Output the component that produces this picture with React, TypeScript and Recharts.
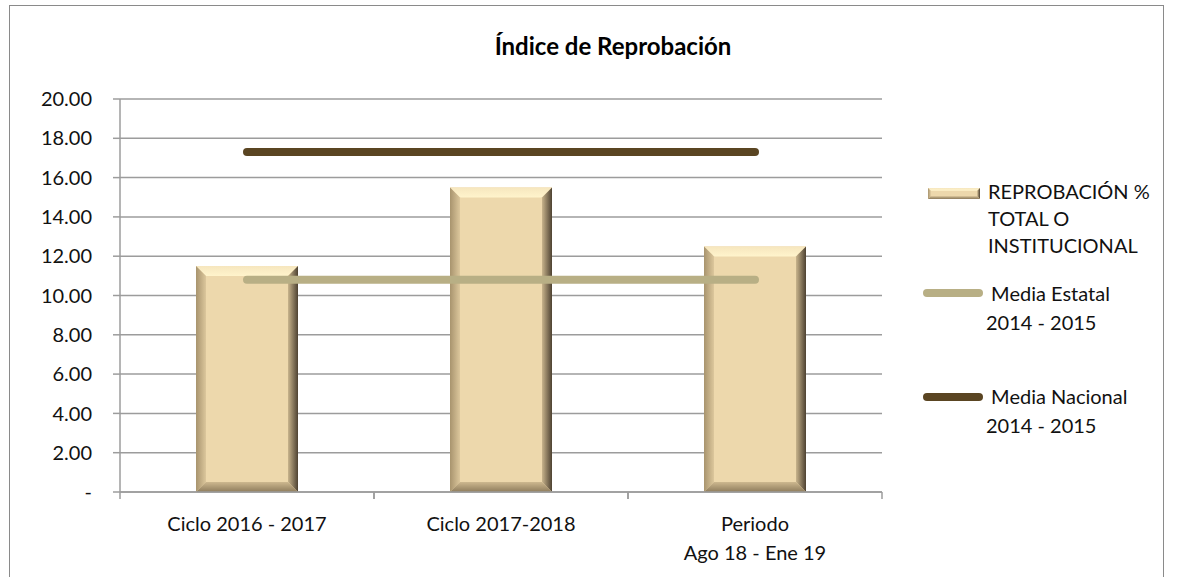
import React from 'react';
import { ComposedChart, Bar, Line, XAxis, YAxis, CartesianGrid } from 'recharts';

const categories = ['Ciclo 2016 - 2017', 'Ciclo 2017-2018', 'Periodo\nAgo 18 - Ene 19'];
const reprobacion = [11.5, 15.5, 12.5];
const mediaEstatal = [10.8, 10.8, 10.8];
const mediaNacional = [17.3, 17.3, 17.3];
const yTicks = [0, 2, 4, 6, 8, 10, 12, 14, 16, 18, 20];

const seriesNames = {
  bar: ['REPROBACIÓN %', 'TOTAL O', 'INSTITUCIONAL'],
  estatal: [' Media Estatal', '2014 - 2015'],
  nacional: [' Media Nacional', '2014 - 2015'],
};

const FONT = 'Lato, "Open Sans", sans-serif';
const BAR_FILL = '#EDD8AC';
const ESTATAL = '#B8AF85';
const NACIONAL = '#5A4522';
const GRID = '#9C9C9C';

const data = categories.map((c, i) => ({
  name: c,
  reprobacion: reprobacion[i],
  estatal: mediaEstatal[i],
  nacional: mediaNacional[i],
}));

function BevelBar(props: any) {
  const { x, y, width: w, height: h } = props;
  if (!h || h <= 0) return null;
  const b = Math.min(10, w / 4, h / 4);
  return (
    <g>
      <rect x={x} y={y} width={w} height={h} fill={BAR_FILL} />
      <polygon points={`${x},${y} ${x + w},${y} ${x + w - b},${y + b} ${x + b},${y + b}`} fill="url(#bevTop)" />
      <polygon points={`${x},${y} ${x + b},${y + b} ${x + b},${y + h - b} ${x},${y + h}`} fill="url(#bevLeft)" />
      <polygon points={`${x + w},${y} ${x + w},${y + h} ${x + w - b},${y + h - b} ${x + w - b},${y + b}`} fill="url(#bevRight)" />
      <polygon points={`${x},${y + h} ${x + w},${y + h} ${x + w - b},${y + h - b} ${x + b},${y + h - b}`} fill="url(#bevBottom)" />
    </g>
  );
}

function XTick(props: any) {
  const { x, y, payload } = props;
  const half = payload && payload.offset ? payload.offset : 127;
  const lines = String(payload.value).split('\n');
  return (
    <g>
      <line x1={x - half} y1={y - 8} x2={x - half} y2={y - 1} stroke={GRID} strokeWidth={1.5} />
      <line x1={x + half} y1={y - 8} x2={x + half} y2={y - 1} stroke={GRID} strokeWidth={1.5} />
      <text x={x} y={y + 31} textAnchor="middle" fontFamily={FONT} fontSize={20} fill="#111">
        {lines.map((l, i) => (
          <tspan key={i} x={x} dy={i === 0 ? 0 : 29}>{l}</tspan>
        ))}
      </text>
    </g>
  );
}

function LegendText({ lines, top, left, lh }: { lines: string[]; top: number; left: number; lh: number }) {
  return (
    <div
      style={{
        position: 'absolute', top, left, fontFamily: FONT, fontSize: 20,
        lineHeight: `${lh}px`, color: '#111', whiteSpace: 'pre',
      }}
    >
      {lines.map((l, i) => (
        <div key={i}>{l}</div>
      ))}
    </div>
  );
}

export default function App() {
  return (
    <div style={{ position: 'absolute', left: 0, top: 0, width: 1180, height: 577, background: '#fff', overflow: 'hidden' }}>
      <div style={{ position: 'absolute', left: 9, top: 5, width: 1153, height: 600, border: '1px solid #8a8a8a' }} />
      <div
        style={{
          position: 'absolute', top: 31, left: 0, width: 1226, textAlign: 'center', lineHeight: '29px',
          fontFamily: FONT, fontWeight: 700, fontSize: 24, color: '#000',
        }}
      >
        Índice de Reprobación
      </div>
      <ComposedChart
        width={1180}
        height={577}
        data={data}
        margin={{ top: 99, right: 298, bottom: 25, left: 40 }}
        style={{ position: 'absolute', left: 0, top: 0 }}
      >
        <defs>
          <linearGradient id="bevTop" x1="0" y1="0" x2="0" y2="1">
            <stop offset="0%" stopColor="#F6E6BE" />
            <stop offset="100%" stopColor="#FFF4CC" />
          </linearGradient>
          <linearGradient id="bevLeft" x1="0" y1="0" x2="1" y2="0">
            <stop offset="0%" stopColor="#A8946E" />
            <stop offset="100%" stopColor="#DCC79C" />
          </linearGradient>
          <linearGradient id="bevRight" x1="0" y1="0" x2="1" y2="0">
            <stop offset="0%" stopColor="#C8B48C" />
            <stop offset="100%" stopColor="#4E4232" />
          </linearGradient>
          <linearGradient id="bevBottom" x1="0" y1="0" x2="0" y2="1">
            <stop offset="0%" stopColor="#CDB88F" />
            <stop offset="100%" stopColor="#8E7C5C" />
          </linearGradient>
        </defs>
        <CartesianGrid vertical={false} stroke={GRID} strokeWidth={1.5} />
        <XAxis
          dataKey="name"
          height={60}
          tick={<XTick />}
          tickLine={false}
          axisLine={{ stroke: GRID, strokeWidth: 1.5 }}
          interval={0}
        />
        <YAxis
          width={80}
          domain={[0, 20]}
          ticks={yTicks}
          interval={0}
          tickSize={7}
          tickMargin={21}
          tickLine={{ stroke: GRID, strokeWidth: 1.5 }}
          axisLine={{ stroke: GRID, strokeWidth: 1.5 }}
          tick={{ fontFamily: FONT, fontSize: 20, fill: '#111' }}
          tickFormatter={(v: number) => (v === 0 ? '-' : v.toFixed(2))}
        />
        <Bar dataKey="reprobacion" barSize={102} shape={<BevelBar />} isAnimationActive={false} />
        <Line dataKey="estatal" stroke={ESTATAL} strokeWidth={8} strokeLinecap="round" dot={false} activeDot={false} isAnimationActive={false} />
        <Line dataKey="nacional" stroke={NACIONAL} strokeWidth={8} strokeLinecap="round" dot={false} activeDot={false} isAnimationActive={false} />
      </ComposedChart>

      <svg style={{ position: 'absolute', left: 920, top: 170 }} width={70} height={270}>
        <BevelBar x={8} y={18} width={52} height={11} />
        <line x1={7} y1={123} x2={59} y2={123} stroke={ESTATAL} strokeWidth={8} strokeLinecap="round" />
        <line x1={7} y1={227} x2={59} y2={227} stroke={NACIONAL} strokeWidth={8} strokeLinecap="round" />
      </svg>
      <LegendText lines={seriesNames.bar} left={988} top={178} lh={27} />
      <LegendText lines={seriesNames.estatal} left={986} top={279} lh={29} />
      <LegendText lines={seriesNames.nacional} left={986} top={382} lh={29} />
    </div>
  );
}
